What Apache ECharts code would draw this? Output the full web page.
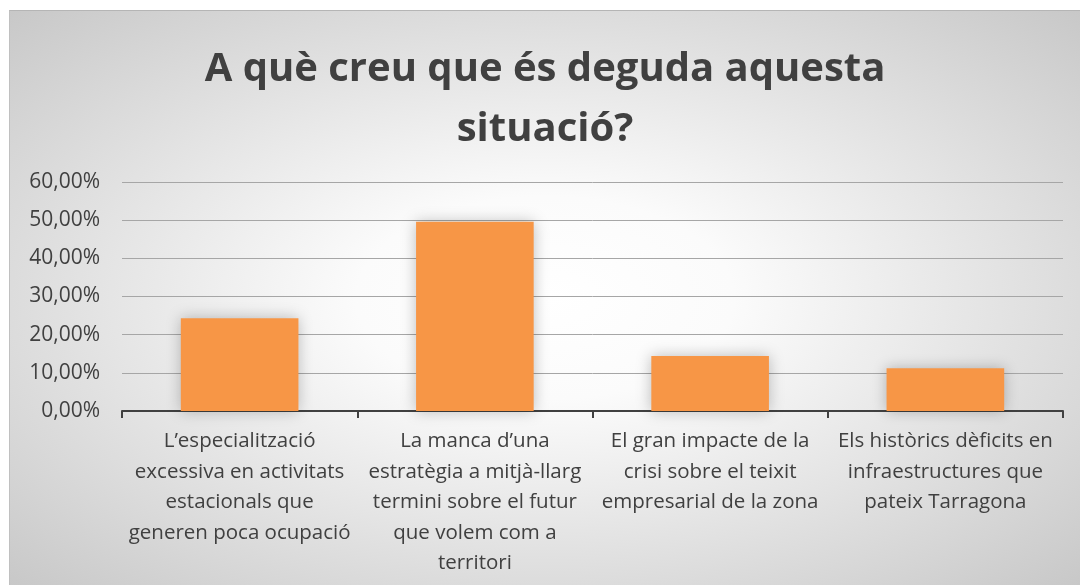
<!DOCTYPE html>
<html>
<head>
<meta charset="utf-8">
<script src="https://cdn.jsdelivr.net/npm/echarts@6/dist/echarts.min.js"></script>
<style>
  html, body { margin: 0; padding: 0; background: #fff; }
  #chart {
    position: absolute;
    left: 9px;
    top: 10px;
    width: 1071px;
    height: 575px;
    border-top: 1px solid #b5b5b5;
    border-left: 1px solid #c0c0c0;
    box-sizing: border-box;
    background: radial-gradient(ellipse at 50% 50%, #ffffff 0%, #fbfbfb 25%, #c8c8c8 100%);
  }
</style>
</head>
<body>
<div id="chart"></div>
<script>
const titleText = "A què creu que és deguda aquesta\nsituació?";
const categories = [
  "L’especialització\nexcessiva en activitats\nestacionals que\ngeneren poca ocupació",
  "La manca d’una\nestratègia a mitjà-llarg\ntermini sobre el futur\nque volem com a\nterritori",
  "El gran impacte de la\ncrisi sobre el teixit\nempresarial de la zona",
  "Els històrics dèficits en\ninfraestructures que\npateix Tarragona"
];
const values = [24.3, 49.6, 14.4, 11.2];
const yMin = 0;
const yMax = 60;
const yStep = 10;

const chart = echarts.init(document.getElementById("chart"));

const option = {
  backgroundColor: "transparent",
  title: {
    text: titleText,
    left: "center",
    top: 24,
    textStyle: {
      fontFamily: "Open Sans",
      fontWeight: "bold",
      fontSize: 40,
      lineHeight: 60,
      color: "#404040"
    }
  },
  grid: {
    left: 112,
    right: 17,
    top: 171,
    bottom: 174
  },
  xAxis: {
    type: "category",
    data: categories,
    axisLine: { lineStyle: { color: "#404040", width: 2 } },
    axisTick: { show: true, length: 7, lineStyle: { color: "#404040", width: 2 } },
    axisLabel: {
      interval: 0,
      margin: 15,
      fontFamily: "Open Sans",
      fontSize: 20.5,
      lineHeight: 30.5,
      color: "#404040",
      align: "center"
    }
  },
  yAxis: {
    type: "value",
    min: yMin,
    max: yMax,
    interval: yStep,
    axisLine: { show: false },
    axisTick: { show: false },
    splitLine: { lineStyle: { color: "#a6a6a6", width: 1 } },
    axisLabel: {
      margin: 22,
      fontFamily: "Open Sans",
      fontSize: 21,
      color: "#404040",
      formatter: v => v.toFixed(2).replace(".", ",") + "%"
    }
  },
  series: [{
    type: "bar",
    data: values,
    barWidth: "50%",
    itemStyle: {
      color: "#f79646",
      shadowBlur: 14,
      shadowColor: "rgba(0,0,0,0.25)"
    }
  }]
};

chart.setOption(option);
window.addEventListener("resize", () => chart.resize());
</script>
</body>
</html>
